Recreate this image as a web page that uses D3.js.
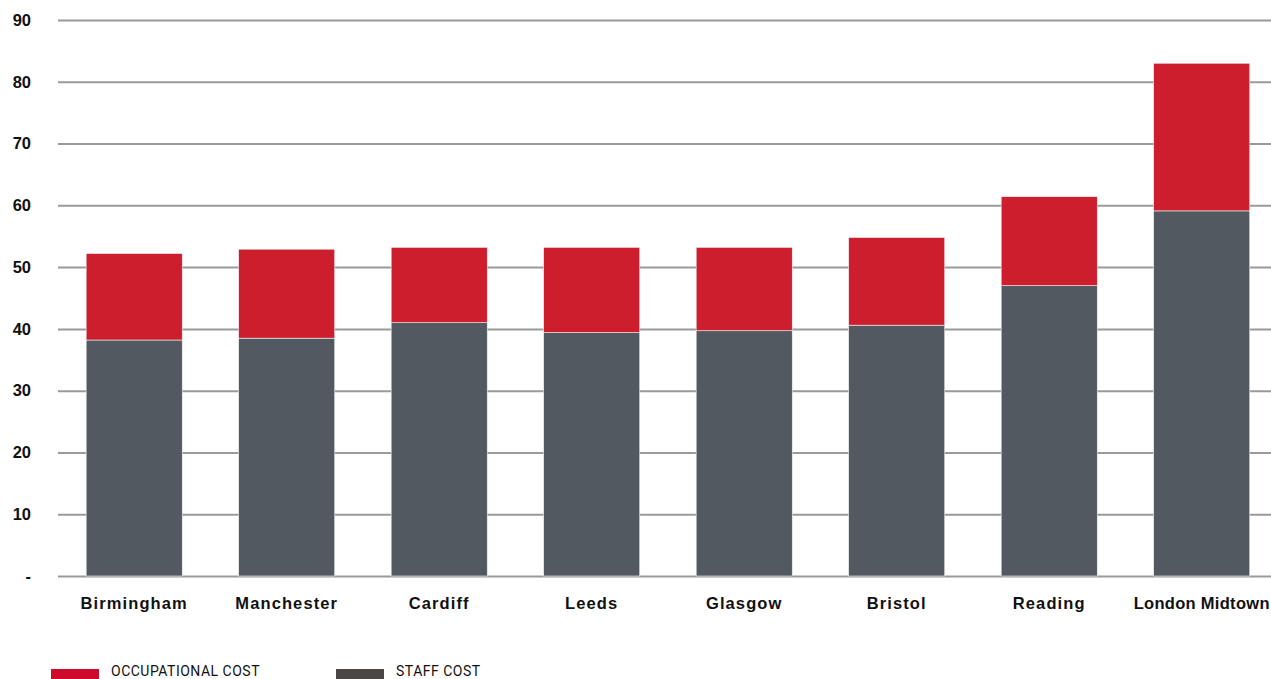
<!DOCTYPE html>
<html><head><meta charset="utf-8">
<script src="https://cdn.jsdelivr.net/npm/d3@7"></script>
<style>
body{margin:0;background:#fff;}
svg{display:block;font-family:Roboto, "DejaVu Sans", sans-serif;}
</style></head>
<body><svg id="c" width="1271" height="679"></svg>
<script>
const categories = ["Birmingham","Manchester","Cardiff","Leeds","Glasgow","Bristol","Reading","London Midtown"];
const staffCost = [38.2, 38.5, 41.0, 39.4, 39.7, 40.6, 47.0, 59.1];
const occupationalCost = [14.0, 14.4, 12.2, 13.8, 13.5, 14.2, 14.4, 23.9];
const yTicks = [0,10,20,30,40,50,60,70,80,90];
const yTickLabels = ["-","10","20","30","40","50","60","70","80","90"];
const seriesNames = ["OCCUPATIONAL COST","STAFF COST"];

(function(){
const svg = d3.select("#c");
const mL = 58, mR = 1271, mT = 20, mB = 576;
const x = d3.scaleBand().domain(categories).range([mL,mR]).paddingInner(0.37).paddingOuter(0.162).align(0.57);
const y = d3.scaleLinear().domain([0,90]).range([mB,mT]);

const yAxis = d3.axisLeft(y).tickValues(yTicks).tickSize(-(mR-mL)).tickFormat((d,i)=>yTickLabels[i]).tickPadding(27);
const ga = svg.append("g").attr("transform",`translate(${mL},0)`).call(yAxis);
ga.select(".domain").remove();
ga.selectAll(".tick line").attr("stroke","#9a9a9a").attr("stroke-width",2);
ga.selectAll(".tick text").attr("fill","#111").attr("font-size",16.5).attr("font-weight","bold");

const data = categories.map((c,i)=>({c, staff:staffCost[i], occ:occupationalCost[i]}));
const stack = d3.stack().keys(["staff","occ"])(data);
const colors = {staff:"#525961", occ:"#cc1e2d"};
svg.append("g").selectAll("g").data(stack).join("g")
  .attr("fill",d=>colors[d.key])
  .selectAll("rect").data(d=>d).join("rect")
  .attr("x",d=>x(d.data.c)).attr("width",x.bandwidth())
  .attr("y",d=>y(d[1])).attr("height",d=>y(d[0])-y(d[1]))
  .attr("stroke","#f3f3f3").attr("stroke-width",0.6);

const xAxis = d3.axisBottom(x).tickSize(0).tickPadding(21);
const gx = svg.append("g").attr("transform",`translate(0,${mB})`).call(xAxis);
gx.select(".domain").remove();
gx.selectAll(".tick text").attr("fill","#111").attr("font-size",16.5).attr("font-weight","bold")
  .attr("letter-spacing",(d,i)=> i===categories.length-1 ? "0.3px" : "1.1px");

const legendColors = ["#cf0a2c","#4a4644"];
const lx = [51,336];
seriesNames.forEach((n,i)=>{
  svg.append("rect").attr("x",lx[i]).attr("y",669).attr("width",48).attr("height",12).attr("fill",legendColors[i]);
  svg.append("text").attr("x",lx[i]+60).attr("y",676).attr("font-size",14).attr("letter-spacing","0.5px").attr("fill","#111").text(n);
});
})();
</script></body></html>
